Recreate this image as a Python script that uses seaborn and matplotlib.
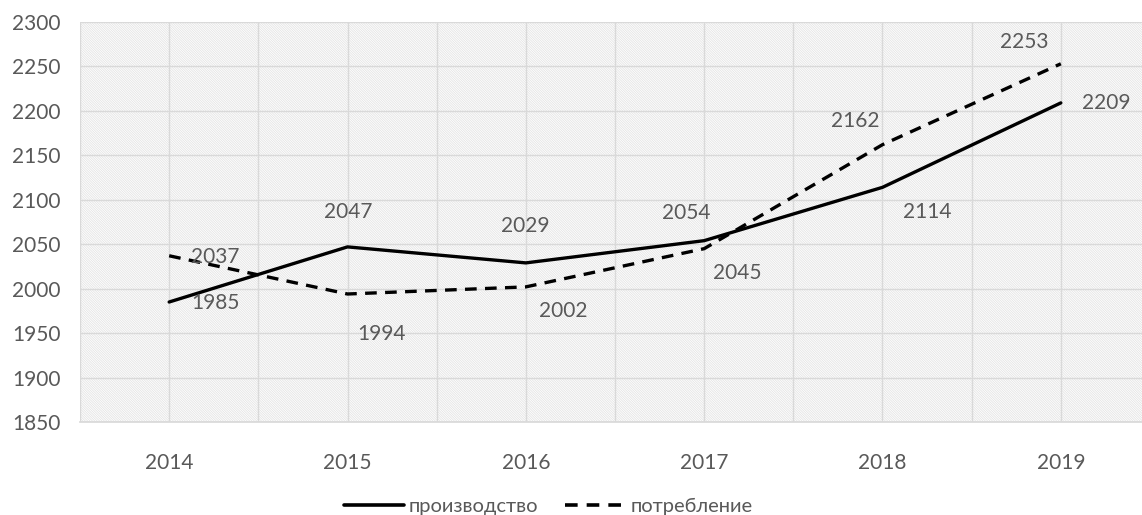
import pandas as pd
import matplotlib
matplotlib.use('Agg')
import matplotlib.pyplot as plt
from matplotlib.patches import Rectangle
from matplotlib.ticker import MultipleLocator
import seaborn as sns

# данные
years = ['2014', '2015', '2016', '2017', '2018', '2019']
production = [1985, 2047, 2029, 2054, 2114, 2209]
consumption = [2037, 1994, 2002, 2045, 2162, 2253]

# смещения подписей (пиксели)
prod_offsets = [(46, -1), (1, 35), (-1, 37), (-18, 28), (45, -25), (45, 0)]
cons_offsets = [(46, -1), (34, -40), (37, -24), (33, -24), (-27, 24), (-37, 22)]

sns.set_theme(style='white')
plt.rcParams['font.family'] = ['Lato', 'DejaVu Sans']
plt.rcParams['hatch.linewidth'] = 0.6

text_color = '#595959'
grid_color = '#d9d9d9'

fig = plt.figure(figsize=(11.42, 5.15), dpi=100)
W, H = 1142, 515
ax = fig.add_axes([80 / W, 1 - 422 / H, 1070 / W, 400 / H])

df = pd.DataFrame({'x': list(range(len(years))) * 2,
                   'value': production + consumption,
                   'series': ['производство'] * 6 + ['потребление'] * 6})

sns.lineplot(data=df, x='x', y='value', style='series', color='black',
             linewidth=2.4, dashes={'производство': '', 'потребление': (3.5, 2.5)},
             legend=False, ax=ax, zorder=3)

# фон со штриховкой
ax.add_patch(Rectangle((0, 0), 1, 1, transform=ax.transAxes, facecolor='white',
                       edgecolor='#e4e4e4', hatch='\\' * 14, linewidth=0, zorder=0))

ax.set_xlim(-0.5, 5.5)
ax.set_ylim(1850, 2300)
ax.yaxis.set_major_locator(MultipleLocator(50))
ax.set_xticks(range(len(years)))
ax.set_xticklabels(years)
ax.set_xticks([i + 0.5 for i in range(-1, 6)], minor=True)
ax.grid(True, which='both', axis='x', color=grid_color, linewidth=1, zorder=1)
ax.grid(True, which='major', axis='y', color=grid_color, linewidth=1, zorder=1)
ax.set_axisbelow(True)
ax.set_xlabel('')
ax.set_ylabel('')
for s in ['top', 'right', 'left']:
    ax.spines[s].set_visible(False)
ax.spines['bottom'].set_color(grid_color)
ax.tick_params(axis='both', which='both', length=0, labelsize=15, labelcolor=text_color)
ax.tick_params(axis='y', pad=14)
ax.tick_params(axis='x', pad=22)

for i, v in enumerate(production):
    ax.annotate(str(v), (i, v), xytext=prod_offsets[i], textcoords='offset pixels',
                ha='center', va='center', fontsize=15, color=text_color, zorder=4)
for i, v in enumerate(consumption):
    ax.annotate(str(v), (i, v), xytext=cons_offsets[i], textcoords='offset pixels',
                ha='center', va='center', fontsize=15, color=text_color, zorder=4)

# легенда
handles = [plt.Line2D([], [], color='black', linewidth=2.6),
           plt.Line2D([], [], color='black', linewidth=2.6, dashes=(3.5, 2.5))]
fig.legend(handles, ['производство', 'потребление'], loc='center',
           bbox_to_anchor=(548 / W, 1 - 506 / H), ncol=2, frameon=False,
           fontsize=14.5, labelcolor=text_color, handlelength=3.0,
           handletextpad=0.25, columnspacing=1.3)

fig.savefig('out.png', dpi=100)
